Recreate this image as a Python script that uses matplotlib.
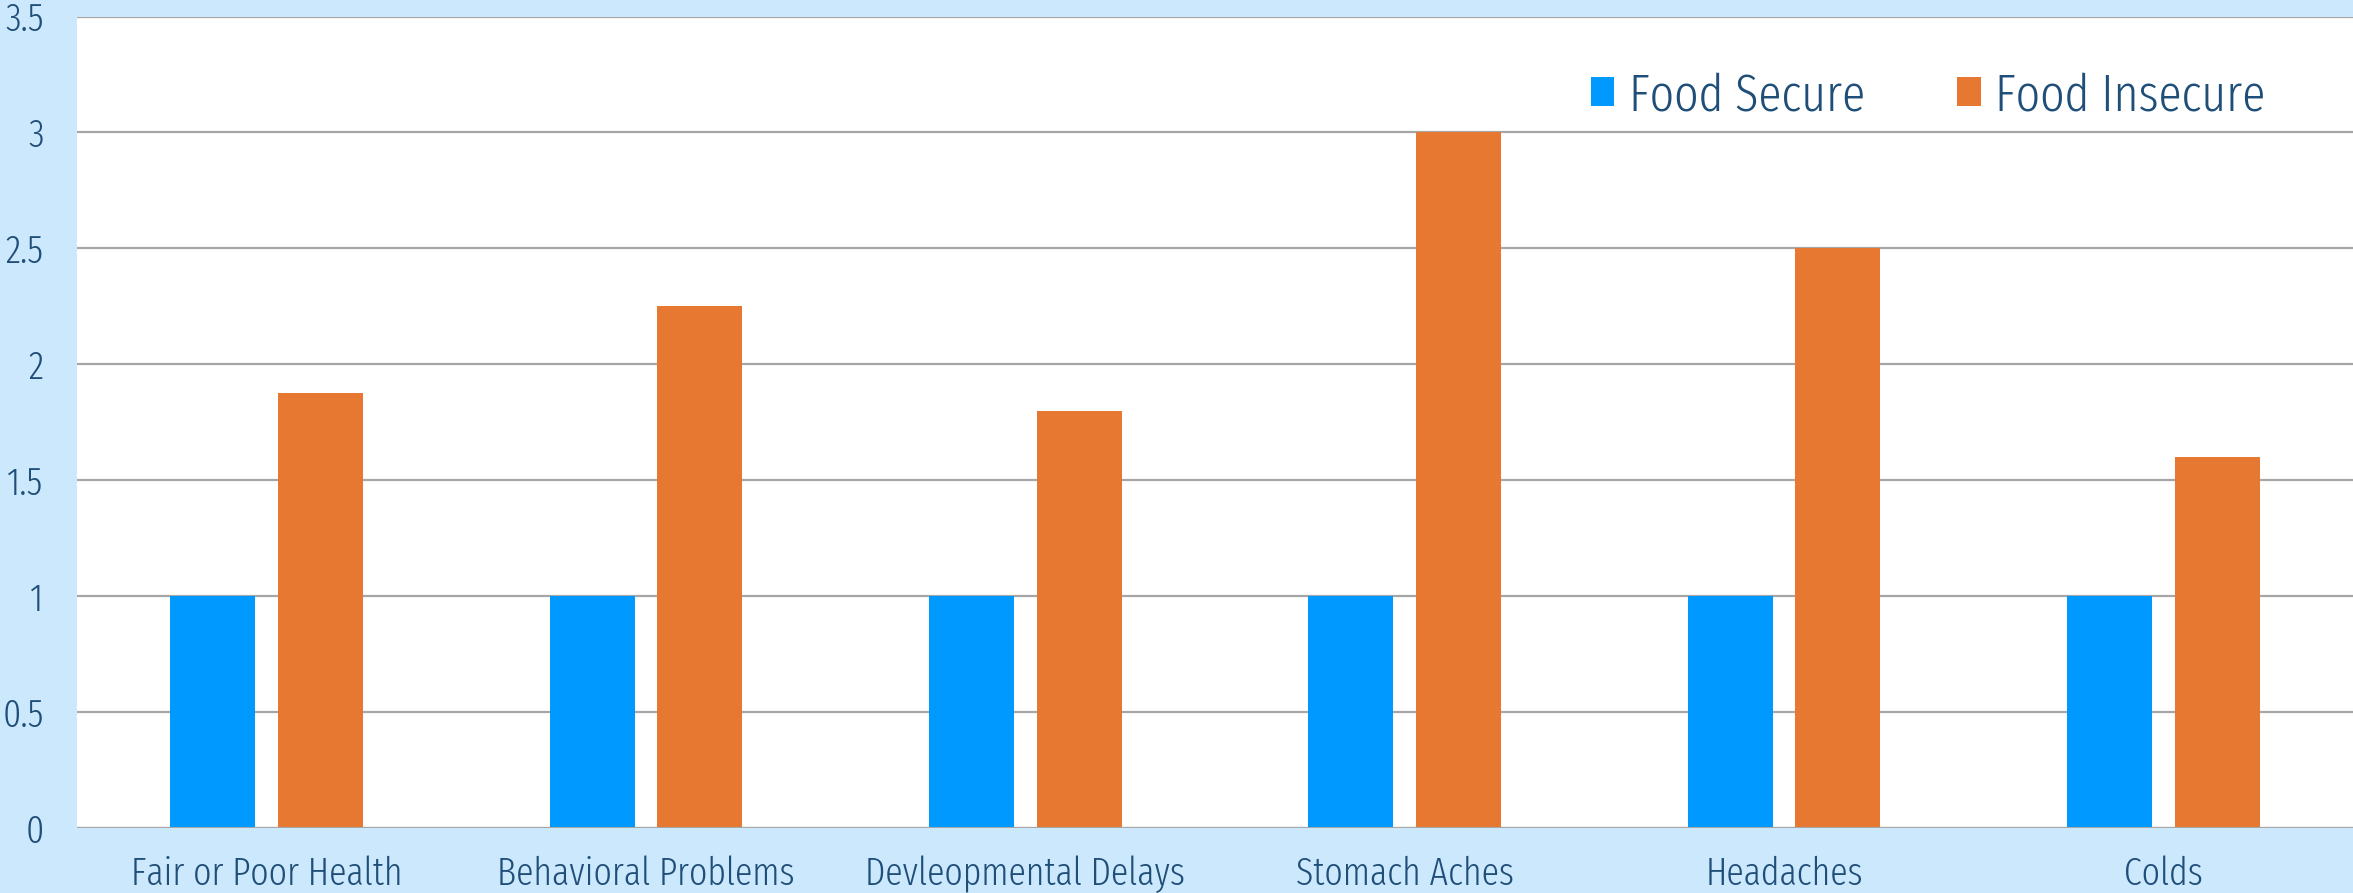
import numpy as np
import matplotlib.pyplot as plt

#%%

kategorie = ['Fair or Poor Health', 'Behavioral Problems', 'Devleopmental Delays',
             'Stomach Aches', 'Headaches', 'Colds']
food_secure = [1, 1, 1, 1, 1, 1]
food_insecure = [1.875, 2.25, 1.8, 3.0, 2.5, 1.6]
yticks = [0, 0.5, 1, 1.5, 2, 2.5, 3, 3.5]

tlo = '#CCE8FC'
niebieski = '#0099FF'
pomaranczowy = '#E67832'
tekst = '#1F4E79'

plt.rcParams['font.family'] = ['Fira Sans Extra Condensed', 'DejaVu Sans']
plt.rcParams['font.weight'] = 300

#%%

fig = plt.figure(figsize=(23.53, 8.93), dpi=100, facecolor=tlo)
ax = fig.add_axes([77/2353, 65/893, 1 - 77/2353, (828 - 16.5)/893])

x = np.arange(len(kategorie))
w = 0.224
ax.bar(x - 0.142, food_secure, w, color=niebieski, label='Food Secure', zorder=3)
ax.bar(x + 0.142, food_insecure, w, color=pomaranczowy, label='Food Insecure', zorder=3)

ax.set_xlim(-0.5, len(kategorie) - 0.5)
ax.set_ylim(0, 3.5)
ax.set_yticks(yticks)
ax.set_yticklabels([('%g' % v) for v in yticks])
ax.set_xticks(x)
ax.set_xticklabels(kategorie)

ax.grid(axis='y', color='#A6A6A6', lw=1.6, zorder=0)
for s in ax.spines.values():
    s.set_visible(False)
ax.axhline(0, color='#A6A6A6', lw=2.2, zorder=4)

ax.tick_params(axis='both', length=0, labelsize=28, colors=tekst)
ax.tick_params(axis='y', pad=24)
ax.tick_params(axis='x', pad=20)

leg = ax.legend(loc='center left', bbox_to_anchor=(0.665, 0.902), ncol=2,
                frameon=False, fontsize=37.5, labelcolor=tekst,
                handlelength=0.46, handleheight=0.46, handletextpad=0.27,
                columnspacing=1.77, borderpad=0, borderaxespad=0)

fig.savefig('out.png', dpi=100, facecolor=tlo)
